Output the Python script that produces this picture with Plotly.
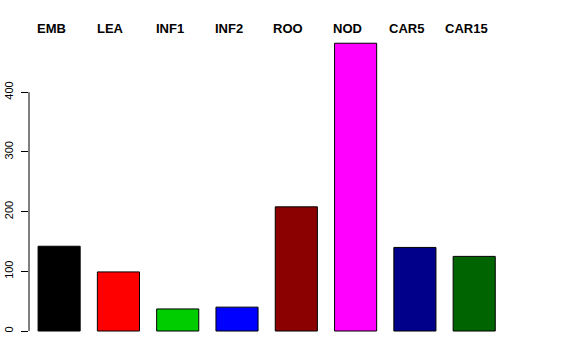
import plotly.graph_objects as go

categories = ["EMB", "LEA", "INF1", "INF2", "ROO", "NOD", "CAR5", "CAR15"]
values = [142, 99, 37, 40, 208, 482, 140, 125]
colors = ["#000000", "#FF0000", "#00CD00", "#0000FF", "#8B0000", "#FF00FF", "#00008B", "#006400"]
yticks = [0, 100, 200, 300, 400]

xs = list(range(len(categories)))

fig = go.Figure()
fig.add_trace(go.Bar(
    x=xs, y=values, width=0.71,
    marker=dict(color=colors, line=dict(color="#000000", width=1)),
    showlegend=False, hoverinfo="skip",
))

for i, c in enumerate(categories):
    fig.add_annotation(
        x=i, y=506, xref="x", yref="y", text="<b>" + c + "</b>",
        showarrow=False, xanchor="center", yanchor="middle", xshift=-8,
        font=dict(family="Liberation Sans, Arial, sans-serif", size=13, color="#000000"),
    )

fig.add_shape(type="line", xref="paper", yref="y", x0=0, x1=0, y0=0, y1=400,
              line=dict(color="#000000", width=1))

fig.update_layout(
    width=576, height=360,
    margin=dict(l=29, r=16, t=20, b=15),
    paper_bgcolor="white", plot_bgcolor="white",
    xaxis=dict(range=[-0.508, 8.447], showgrid=False, zeroline=False, automargin=False,
               showline=False, showticklabels=False, ticks=""),
    yaxis=dict(range=[-23.4, 520.9], showgrid=False, zeroline=False, showline=False,
               automargin=False,
               tickmode="array", tickvals=yticks, ticktext=[str(v) for v in yticks],
               ticks="outside", ticklen=7, tickcolor="#000000", tickwidth=1,
               tickangle=-90, ticklabelstandoff=4,
               tickfont=dict(family="Liberation Sans, Arial, sans-serif", size=11, color="#000000")),
)

fig.write_html("out.html", config={"displayModeBar": False, "staticPlot": True},
               post_script="document.body.style.margin='0';document.body.style.overflow='hidden';")
